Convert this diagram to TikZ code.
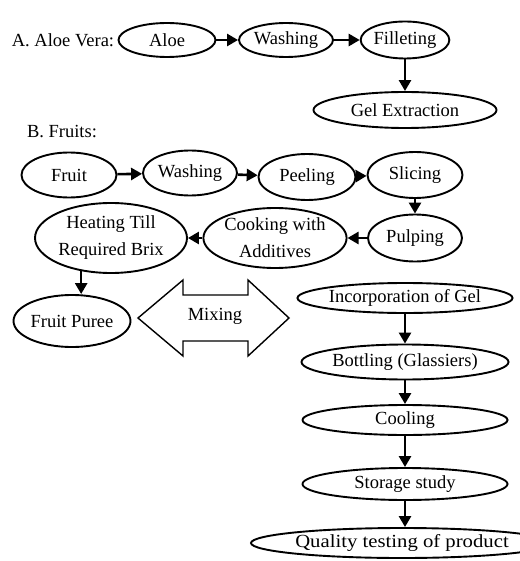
\documentclass[tikz,border=0pt]{standalone}
\usepackage{fontspec}
\setmainfont{Liberation Serif}
\usetikzlibrary{shapes.geometric,arrows.meta}
\begin{document}
\begin{tikzpicture}[x=1pt,y=-1pt,
  font=\fontsize{18.5}{27}\selectfont,
  oval/.style={ellipse,draw,line width=1.9pt,inner sep=0pt},
  flow/.style={line width=2.6pt,-{Triangle[length=11pt,width=12pt]}},
  label/.style={inner sep=0pt}]
\useasboundingbox (0,0) rectangle (519,561);

% A. Aloe vera line
\node[label] (labA) at (63,40) {A. Aloe Vera:};
\node[oval,minimum width=97pt,minimum height=34pt] (aloe) at (167,40) {Aloe};
\node[oval,minimum width=94pt,minimum height=34pt] (washA) at (286,40) {Washing};
\node[oval,minimum width=87pt,minimum height=37pt] (fillet) at (405,40) {Filleting};
\node[oval,minimum width=183pt,minimum height=36pt] (gel) at (405,110) {Gel Extraction};

\draw[flow] (aloe) -- (washA);
\draw[flow] (washA) -- (fillet);
\draw[flow] (fillet) -- (gel);

% B. Fruit line
\node[label] (labB) at (62,132) {B. Fruits:};
\node[oval,minimum width=95pt,minimum height=45pt] (fruit) at (69,175) {Fruit};
\node[oval,minimum width=94pt,minimum height=45pt] (washB) at (190,173) {Washing};
\node[oval,minimum width=97pt,minimum height=46pt] (peel) at (307,177) {Peeling};
\node[oval,minimum width=95pt,minimum height=46pt] (slice) at (415,175) {Slicing};
\node[oval,minimum width=94pt,minimum height=47pt] (pulp) at (415,238) {Pulping};
\node[oval,minimum width=130pt,minimum height=60pt,align=center] (cook) at (275,238)
  {Cooking with\\Additives};
\node[oval,minimum width=152pt,minimum height=70pt,align=center] (heat) at (111,238)
  {Heating Till\\Required Brix};
\node[oval,minimum width=101pt,minimum height=52pt] (puree) at (72,321) {Fruit Puree};

\draw[flow] (fruit) -- (washB);
\draw[flow] (washB) -- (peel);
\draw[flow] (peel) -- (slice);
\draw[flow] (slice) -- (pulp);
\draw[flow] (pulp) -- (cook);
\draw[flow] (cook) -- (heat);
\draw[flow] (heat.228) -- (heat.228 |- puree.north);

% Mixing: two-headed block arrow
\draw[line width=1.4pt,line join=miter]
  (138,318) -- (183,280) -- (183,295) -- (248,295) -- (248,280) -- (289,318)
  -- (248,356) -- (248,341) -- (183,341) -- (183,356) -- cycle;
\node[label] (mix) at (215,316) {Mixing};

% Final product line
\node[oval,minimum width=208pt,minimum height=30pt] (inc) at (405,298) {Incorporation of Gel};
\node[oval,minimum width=207pt,minimum height=35pt] (bottle) at (405,362) {Bottling (Glassiers)};
\node[oval,minimum width=205pt,minimum height=30pt] (cool) at (405,420) {Cooling};
\node[oval,minimum width=205pt,minimum height=32pt] (store) at (405,484) {Storage study};
\node[oval,minimum width=233pt,minimum height=30pt] (quality) at (402,543)
  {\scalebox{1.12}[1]{Quality testing of product}};

\draw[flow] (inc) -- (bottle);
\draw[flow] (bottle) -- (cool);
\draw[flow] (cool) -- (store);
\draw[flow] (store.south) -- (store.south |- quality.north);
\end{tikzpicture}
\end{document}
